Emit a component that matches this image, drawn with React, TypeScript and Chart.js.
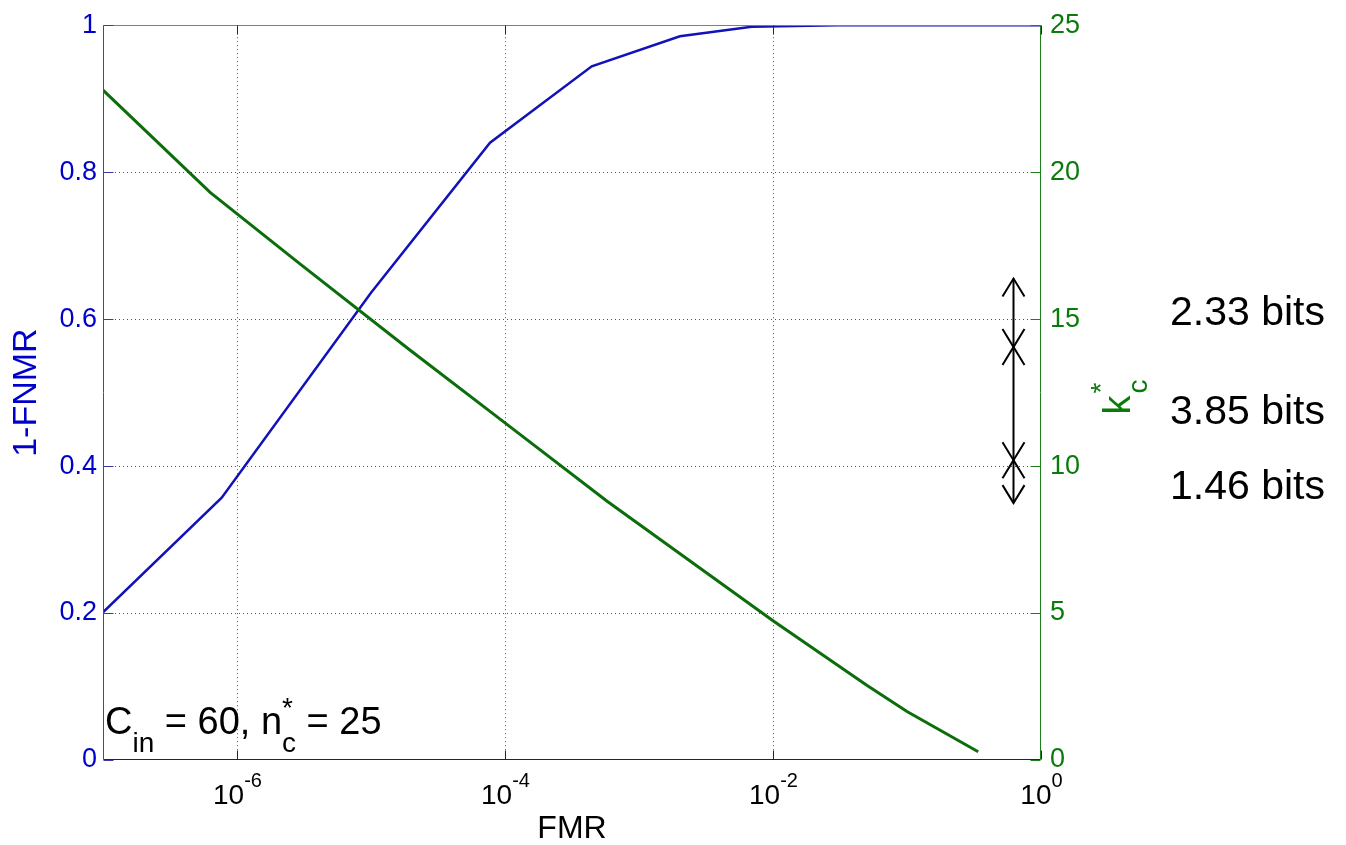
import React, { useEffect, useRef } from "react";
import { Chart, registerables } from "chart.js";
Chart.register(...registerables);

const FONT = "'Liberation Sans', Arial, Helvetica, sans-serif";

// 1-FNMR curve (left axis)
const fmrBlue = [1e-7, 7.69e-7, 1e-5, 7.73e-5, 4.44e-4, 2.02e-3, 6.93e-3, 3e-2, 1];
const acceptRate = [0.201, 0.357, 0.636, 0.84, 0.944, 0.985, 0.998, 1.0, 1.0];

// k_c* curve (right axis)
const fmrGreen = [1e-7, 6.3e-7, 2.95e-6, 1.95e-5, 1e-4, 5.75e-4, 1e-2, 5.01e-2, 1e-1, 0.34];
const kcStar = [22.79, 19.31, 16.88, 13.95, 11.47, 8.81, 4.74, 2.54, 1.65, 0.28];

// x tick labels: 10^exponent
const xTickExponents = [-6, -4, -2, 0];

// double arrows on the right
const arrowFmr = 0.62;
const arrowLevels = [16.38, 14.05, 10.2, 8.74];
const bitLabels = ["2.33 bits", "3.85 bits", "1.46 bits"];
const bitLabelLevels = [14.8, 11.42, 8.88];

const BLUE_LINE = "#1212b8";
const BLUE_TEXT = "#0000cc";
const GREEN_LINE = "#0b6e0b";
const GREEN_TEXT = "#0a7a0a";

const decor = {
  id: "decor",
  afterDatasetsDraw(chart: any) {
    const { ctx, chartArea: a, scales } = chart;
    const sx = scales.x;
    const yl = scales.yL;
    const yr = scales.yR;
    const seg = (x1: number, y1: number, x2: number, y2: number, c: string, w = 1) => {
      ctx.beginPath();
      ctx.strokeStyle = c;
      ctx.lineWidth = w;
      ctx.moveTo(x1, y1);
      ctx.lineTo(x2, y2);
      ctx.stroke();
    };
    ctx.save();
    ctx.setLineDash([]);
    const L = Math.round(a.left) + 0.5;
    const R = Math.round(a.right) - 0.5;
    const T = Math.round(a.top) + 0.5;
    const B = Math.round(a.bottom) - 0.5;
    // frame
    seg(L, T, R, T, "#7f7f7f");
    seg(L, B, R, B, "#262626");
    seg(L, T, L, B, "#4646a0");
    seg(R, T, R, B, "#1f7f1f");
    // y ticks
    yl.ticks.forEach((t: any) => {
      const py = Math.round(yl.getPixelForValue(t.value)) + 0.5;
      seg(L, py, L + 10, py, "#3a3aa0");
    });
    yr.ticks.forEach((t: any) => {
      const py = Math.round(yr.getPixelForValue(t.value)) + 0.5;
      seg(R - 10, py, R, py, "#1f7f1f");
    });
    // x ticks and labels
    xTickExponents.forEach((e) => {
      const px = Math.round(sx.getPixelForValue(Math.pow(10, e))) + 0.5;
      seg(px, B, px, B - 9, "#262626");
      seg(px, T, px, T + 9, "#262626");
      ctx.fillStyle = "#000";
      ctx.textBaseline = "alphabetic";
      ctx.textAlign = "left";
      ctx.font = `28px ${FONT}`;
      const w1 = ctx.measureText("10").width;
      ctx.font = `20px ${FONT}`;
      const exp = String(e);
      const w2 = ctx.measureText(exp).width;
      const x0 = px - (w1 + w2) / 2;
      ctx.font = `28px ${FONT}`;
      ctx.fillText("10", x0, a.bottom + 44);
      ctx.font = `20px ${FONT}`;
      ctx.fillText(exp, x0 + w1, a.bottom + 27);
    });
    // axis titles
    ctx.fillStyle = "#000";
    ctx.font = `32px ${FONT}`;
    ctx.textAlign = "center";
    ctx.fillText("FMR", (a.left + a.right) / 2, a.bottom + 78);

    ctx.save();
    ctx.translate(36, (a.top + a.bottom) / 2);
    ctx.rotate(-Math.PI / 2);
    ctx.fillStyle = BLUE_TEXT;
    ctx.font = `34px ${FONT}`;
    ctx.textAlign = "center";
    ctx.fillText("1-FNMR", 0, 0);
    ctx.restore();

    // k_c* title (rotated)
    ctx.save();
    ctx.translate(a.right + 89, (a.top + a.bottom) / 2 + 22);
    ctx.rotate(-Math.PI / 2);
    ctx.fillStyle = GREEN_TEXT;
    ctx.textAlign = "left";
    ctx.font = `38px ${FONT}`;
    ctx.fillText("k", 0, 0);
    const kw = ctx.measureText("k").width;
    ctx.font = `28px ${FONT}`;
    ctx.fillText("c", kw + 2, 17);
    ctx.fillText("*", kw + 2, -20);
    ctx.restore();

    // arrows
    const ax = Math.round(sx.getPixelForValue(arrowFmr)) + 0.5;
    const head = (yTip: number, dir: number) => {
      ctx.beginPath();
      ctx.strokeStyle = "#000";
      ctx.lineWidth = 2;
      ctx.moveTo(ax - 11, yTip + dir * 18);
      ctx.lineTo(ax, yTip);
      ctx.lineTo(ax + 11, yTip + dir * 18);
      ctx.stroke();
    };
    for (let i = 0; i < arrowLevels.length - 1; i++) {
      const y1 = yr.getPixelForValue(arrowLevels[i]);
      const y2 = yr.getPixelForValue(arrowLevels[i + 1]);
      seg(ax, y1, ax, y2, "#000", 2);
      head(y1, 1);
      head(y2, -1);
    }
    ctx.fillStyle = "#000";
    ctx.font = `41px ${FONT}`;
    ctx.textAlign = "left";
    bitLabels.forEach((t, i) => {
      ctx.fillText(t, a.right + 129, yr.getPixelForValue(bitLabelLevels[i]));
    });

    // annotation C_in = 60, n_c* = 25
    let x = a.left + 2;
    const b = a.bottom - 26;
    ctx.fillStyle = "#000";
    ctx.font = `38px ${FONT}`;
    ctx.fillText("C", x, b);
    x += ctx.measureText("C").width;
    ctx.font = `28px ${FONT}`;
    ctx.fillText("in", x, b + 18);
    x += ctx.measureText("in").width;
    ctx.font = `38px ${FONT}`;
    ctx.fillText(" = 60, n", x, b);
    x += ctx.measureText(" = 60, n").width;
    ctx.font = `28px ${FONT}`;
    ctx.fillText("c", x, b + 18);
    ctx.fillText("*", x, b - 17);
    x += ctx.measureText("c").width;
    ctx.font = `38px ${FONT}`;
    ctx.fillText(" = 25", x, b);

    ctx.restore();
  },
};

export default function App() {
  const ref = useRef<HTMLCanvasElement | null>(null);
  useEffect(() => {
    if (!ref.current) return;
    const chart = new Chart(ref.current, {
      type: "line",
      data: {
        datasets: [
          {
            label: "1-FNMR",
            data: fmrBlue.map((f, i) => ({ x: f, y: acceptRate[i] })),
            yAxisID: "yL",
            borderColor: BLUE_LINE,
            borderWidth: 2.5,
            pointRadius: 0,
            tension: 0,
            fill: false,
            order: 2,
          },
          {
            label: "k_c*",
            data: fmrGreen.map((f, i) => ({ x: f, y: kcStar[i] })),
            yAxisID: "yR",
            borderColor: GREEN_LINE,
            borderWidth: 3,
            pointRadius: 0,
            tension: 0,
            fill: false,
            order: 1,
          },
        ],
      },
      options: {
        animation: false,
        responsive: false,
        devicePixelRatio: 1,
        layout: { padding: { top: 22, left: 0, right: 0, bottom: 0 } },
        plugins: { legend: { display: false }, tooltip: { enabled: false } },
        scales: {
          x: {
            type: "logarithmic",
            min: 1e-7,
            max: 1,
            afterBuildTicks: (s: any) => {
              s.ticks = xTickExponents.map((e) => ({ value: Math.pow(10, e) }));
            },
            afterFit: (s: any) => {
              s.height = 85;
            },
            ticks: { display: false },
            grid: {
              drawTicks: false,
              lineWidth: 1,
              color: (c: any) => (c.tick && c.tick.value >= 1 ? "rgba(0,0,0,0)" : "#505050"),
            },
            border: { display: false, dash: [1, 3] },
          },
          yL: {
            type: "linear",
            position: "left",
            min: 0,
            max: 1,
            ticks: {
              stepSize: 0.2,
              color: BLUE_TEXT,
              padding: 6,
              font: { family: FONT, size: 27 },
              callback: (v: any) => String(Math.round(Number(v) * 10) / 10),
            },
            afterFit: (s: any) => {
              s.width = 103;
            },
            grid: {
              drawTicks: false,
              lineWidth: 1,
              color: (c: any) =>
                c.tick && (c.tick.value <= 0 || c.tick.value >= 1) ? "rgba(0,0,0,0)" : "#505050",
            },
            border: { display: false, dash: [1, 3] },
          },
          yR: {
            type: "linear",
            position: "right",
            min: 0,
            max: 25,
            ticks: {
              stepSize: 5,
              color: GREEN_TEXT,
              padding: 9,
              font: { family: FONT, size: 27 },
            },
            afterFit: (s: any) => {
              s.width = 305;
            },
            grid: { display: false, drawTicks: false },
            border: { display: false },
          },
        },
      },
      plugins: [decor],
    });
    return () => chart.destroy();
  }, []);
  return (
    <div style={{ position: "fixed", left: 0, top: 0, width: 1346, height: 845, background: "#fff" }}>
      <canvas ref={ref} width={1346} height={845} style={{ display: "block" }} />
    </div>
  );
}
